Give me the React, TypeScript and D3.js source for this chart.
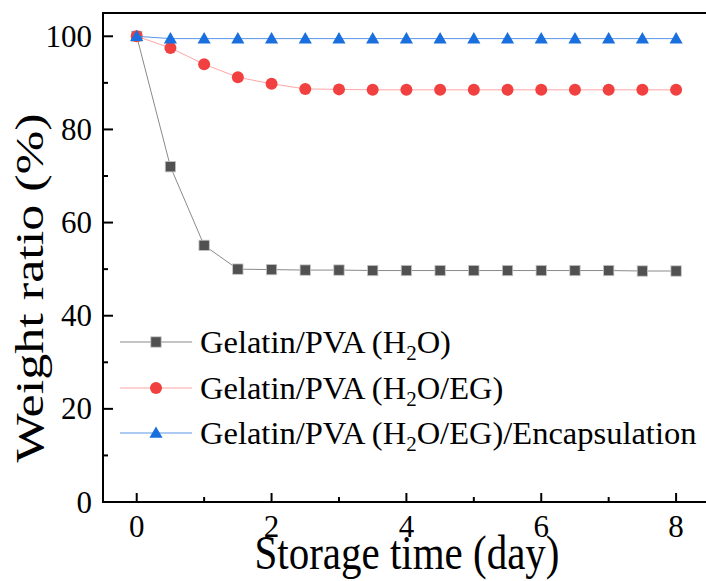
import React from "react";
import * as d3 from "d3";

const days = [0, 0.5, 1, 1.5, 2, 2.5, 3, 3.5, 4, 4.5, 5, 5.5, 6, 6.5, 7, 7.5, 8];
const h2o = [100, 72.0, 55.1, 50.0, 49.9, 49.8, 49.8, 49.7, 49.7, 49.7, 49.7, 49.7, 49.7, 49.7, 49.7, 49.6, 49.6];
const h2oEg = [100, 97.5, 94.0, 91.2, 89.8, 88.7, 88.6, 88.5, 88.5, 88.5, 88.5, 88.5, 88.5, 88.5, 88.5, 88.5, 88.5];
const encap = [100, 99.5, 99.5, 99.5, 99.5, 99.5, 99.5, 99.5, 99.5, 99.5, 99.5, 99.5, 99.5, 99.5, 99.5, 99.5, 99.5];
const xTicks = [0, 2, 4, 6, 8];
const xMinor = [1, 3, 5, 7];
const yTicks = [0, 20, 40, 60, 80, 100];
const yMinor = [10, 30, 50, 70, 90];

const W = 706, H = 581;
const FONT = "Liberation Serif, Times New Roman, serif";
const fs = (size: number) => ({ fontFamily: FONT, fontSize: size });

const series = [
  { name: "sq", values: h2o, fill: "#515151", stroke: "#c8c8c8", line: "#8a8a8a", pre: "Gelatin/PVA (H", post: "O)" },
  { name: "ci", values: h2oEg, fill: "#F14040", stroke: "#F14040", line: "#ffa5a5", pre: "Gelatin/PVA (H", post: "O/EG)" },
  { name: "tr", values: encap, fill: "#1A6FDF", stroke: "#1A6FDF", line: "#5a95e6", pre: "Gelatin/PVA (H", post: "O/EG)/Encapsulation" },
];

function Marker({ kind, x, y, s }: { kind: string; x: number; y: number; s: any }) {
  if (kind === "sq") return <rect x={x - 5.2} y={y - 5.2} width={10.4} height={10.4} fill={s.fill} stroke={s.stroke} strokeWidth={0.8} />;
  if (kind === "ci") return <circle cx={x} cy={y} r={6} fill={s.fill} />;
  const sym = d3.symbol(d3.symbolTriangle, 75)();
  return <path d={sym as string} transform={`translate(${x},${y + 1})`} fill={s.fill} />;
}

export default function App() {
  const left = 103, right = 709.8, top = 13, bottom = 502;
  const x = d3.scaleLinear().domain([-0.5, 8.5]).range([left, right]);
  const y = d3.scaleLinear().domain([0, 105]).range([bottom, top]);
  const line = d3.line<number>().x((_, i) => x(days[i])).y((d) => y(d));
  const legendRows = [342, 388, 433];

  return (
    <svg width={W} height={H} style={{ position: "absolute", left: 0, top: 0, background: "#fff" }}>
      {series.map((s) => (
        <g key={s.name}>
          <path d={line(s.values) as string} fill="none" stroke={s.line} strokeWidth={1} />
          {s.values.map((v, i) => (
            <Marker key={i} kind={s.name} x={x(days[i])} y={y(v)} s={s} />
          ))}
        </g>
      ))}
      <path d={`M${right},${top}H${left}V${bottom}H${right}`} fill="none" stroke="#000" strokeWidth={2} />
      {xTicks.map((t) => (
        <g key={"xt" + t}>
          <line x1={x(t)} x2={x(t)} y1={bottom} y2={bottom - 9} stroke="#000" strokeWidth={2} />
          <text x={x(t)} y={537} textAnchor="middle" style={fs(31)}>{t}</text>
        </g>
      ))}
      {xMinor.map((t) => (
        <line key={"xm" + t} x1={x(t)} x2={x(t)} y1={bottom} y2={bottom - 5} stroke="#000" strokeWidth={2} />
      ))}
      {yTicks.map((t) => (
        <g key={"yt" + t}>
          <line x1={left} x2={left + 10} y1={y(t)} y2={y(t)} stroke="#000" strokeWidth={2} />
          <text x={92} y={y(t) + 10.5} textAnchor="end" style={fs(31)}>{t}</text>
        </g>
      ))}
      {yMinor.map((t) => (
        <line key={"ym" + t} x1={left} x2={left + 5} y1={y(t)} y2={y(t)} stroke="#000" strokeWidth={2} />
      ))}
      <text transform={`translate(407,569) scale(1,1.18)`} textAnchor="middle" style={fs(41)}>Storage time (day)</text>
      <text transform={`translate(43,288) rotate(-90)`} textAnchor="middle" style={fs(41)} textLength={349} lengthAdjust="spacingAndGlyphs">Weight ratio (%)</text>
      {series.map((s, i) => (
        <g key={"lg" + s.name}>
          <line x1={120} x2={192} y1={legendRows[i]} y2={legendRows[i]} stroke={s.line} strokeWidth={1} />
          <Marker kind={s.name} x={156} y={legendRows[i]} s={s} />
          <text x={200} y={legendRows[i] + 11} style={fs(32.5)}>
            {s.pre}
            <tspan style={fs(21)} dy={7}>2</tspan>
            <tspan dy={-7}>{s.post}</tspan>
          </text>
        </g>
      ))}
    </svg>
  );
}
